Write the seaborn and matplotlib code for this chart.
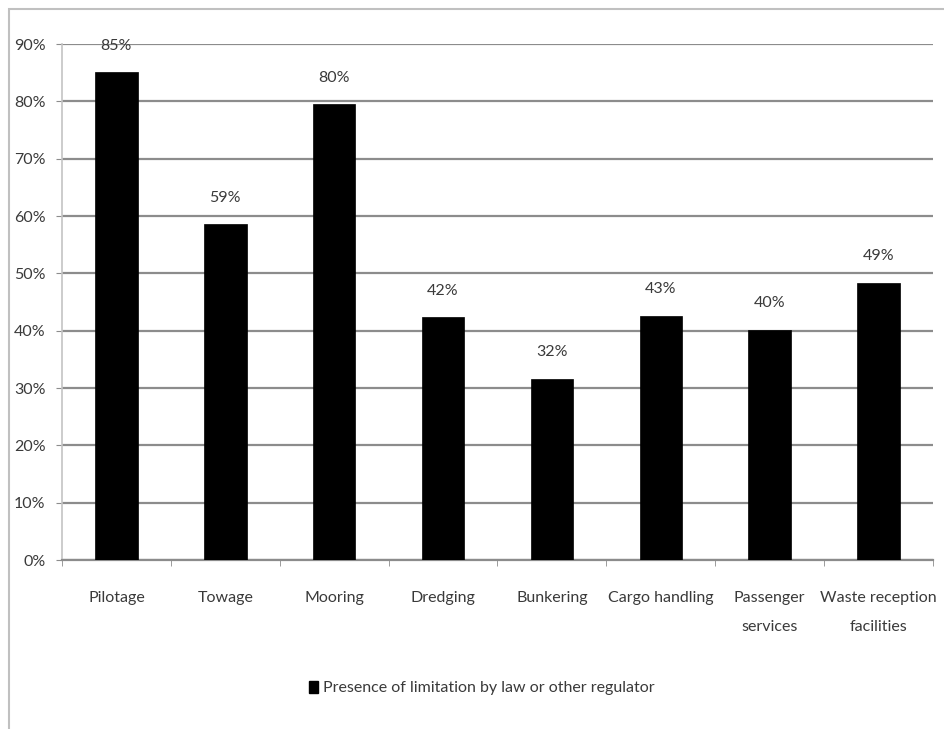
import matplotlib
matplotlib.use('Agg')
import matplotlib.pyplot as plt
import matplotlib.patches as mpatches
from matplotlib.ticker import PercentFormatter
import seaborn as sns

# ===== 数据 =====
categories = ['Pilotage', 'Towage', 'Mooring', 'Dredging', 'Bunkering',
              'Cargo handling', 'Passenger\nservices', 'Waste reception\nfacilities']
values = [85.1, 58.6, 79.5, 42.3, 31.6, 42.6, 40.2, 48.4]
bar_labels = ['85%', '59%', '80%', '42%', '32%', '43%', '40%', '49%']
series_name = 'Presence of limitation by law or other regulator'
y_ticks = [0, 10, 20, 30, 40, 50, 60, 70, 80, 90]

# ===== 风格 =====
sns.set_style('white')
plt.rcParams['font.family'] = ['Lato', 'DejaVu Sans']
FS = 11.5
C_TEXT = '#3a3a3a'
C_GRID = '#8c8c8c'
C_AXIS = '#c4c4c4'

fig = plt.figure(figsize=(9.45, 7.29), dpi=100)
ax = fig.add_axes([62 / 945, 169 / 729, (933 - 62) / 945, (560 - 44) / 729])

sns.barplot(x=categories, y=values, color='black', width=0.39,
            saturation=1, edgecolor='black', linewidth=0.5, ax=ax, zorder=3)

ax.bar_label(ax.containers[0], labels=bar_labels, padding=14,
             fontsize=FS, color=C_TEXT)

ax.set_ylim(0, 90)
ax.set_xlim(-0.5, len(categories) - 0.5)
ax.set_yticks(y_ticks)
ax.yaxis.set_major_formatter(PercentFormatter(decimals=0))
ax.grid(axis='y', color=C_GRID, linewidth=1.6, zorder=0)
ax.set_axisbelow(True)

# x 轴刻度在类别边界
ax.set_xticks(range(len(categories)))
ax.set_xticklabels(categories, fontsize=FS, color=C_TEXT, linespacing=2.4)
ax.tick_params(axis='x', length=0, pad=22)
ax.set_xticks([i - 0.5 for i in range(len(categories) + 1)], minor=True)
ax.tick_params(axis='x', which='minor', length=4, color=C_GRID, direction='out', bottom=True)
ax.tick_params(axis='y', length=4, color=C_GRID, pad=8, labelsize=FS,
               labelcolor=C_TEXT, left=True)

for s in ['top', 'right']:
    ax.spines[s].set_visible(False)
ax.spines['left'].set_color(C_AXIS)
ax.spines['left'].set_linewidth(1.2)
ax.spines['bottom'].set_color(C_GRID)
ax.spines['bottom'].set_linewidth(1.6)
ax.set_xlabel('')
ax.set_ylabel('')

# 图例
handle = mpatches.Patch(color='black')
fig.legend([handle], [series_name], loc='center', bbox_to_anchor=(0.51, 1 - 688 / 729),
           frameon=False, fontsize=FS, handlelength=0.55, handleheight=0.85,
           handletextpad=0.3, labelcolor=C_TEXT)

# 外框
frame = mpatches.Rectangle((9 / 945, -0.1), 1.2, 1 - 9 / 729 + 0.1,
                           transform=fig.transFigure, fill=False,
                           edgecolor='#c0c0c0', linewidth=1.5, clip_on=False)
fig.patches.append(frame)

fig.savefig('out.png', dpi=100)
